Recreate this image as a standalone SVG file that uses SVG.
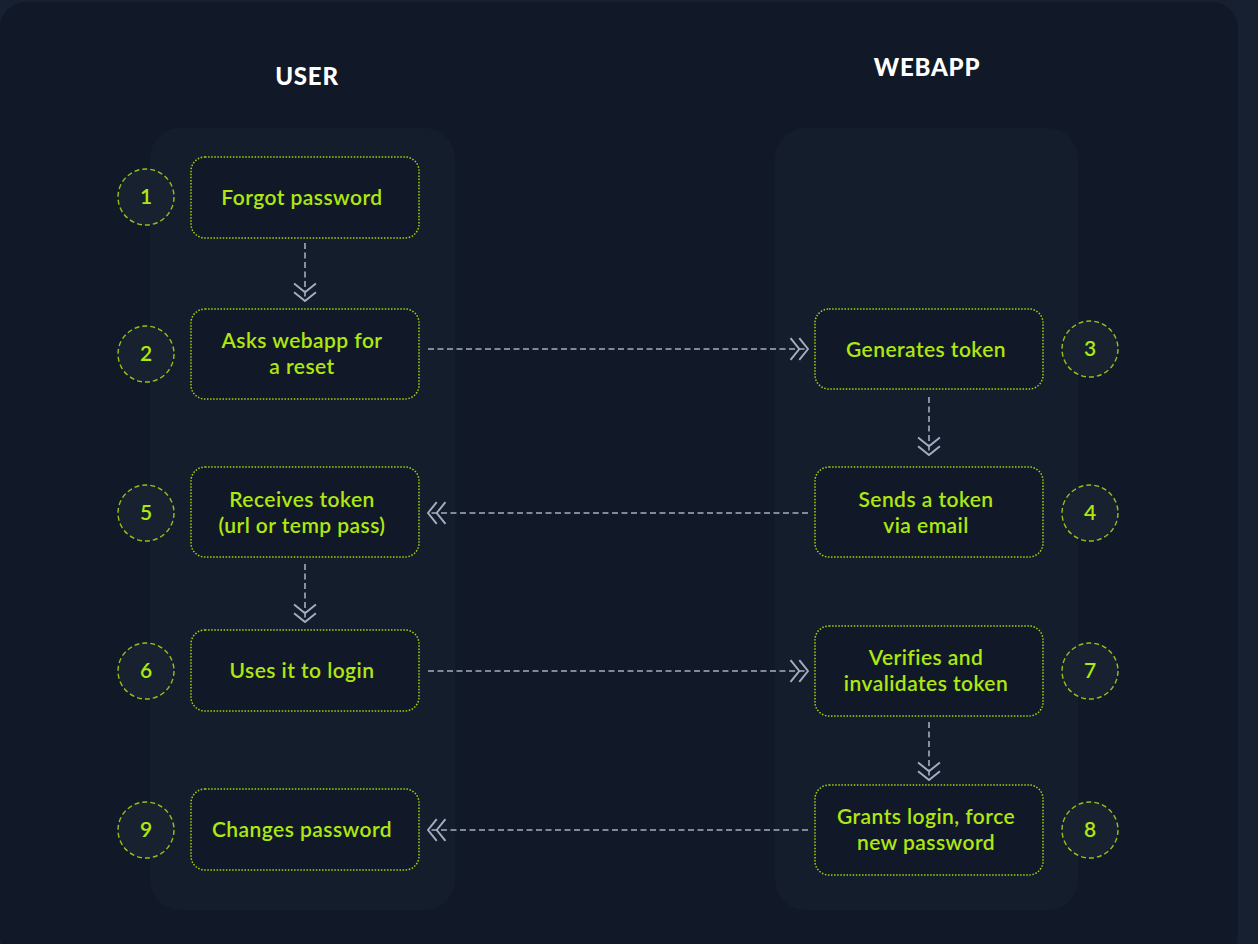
<svg xmlns="http://www.w3.org/2000/svg" width="1258" height="944" viewBox="0 0 1258 944">
<defs>
<style>
.lane{fill:#141d2b}
.box{fill:#111827;stroke:#9fd40e;stroke-width:1.5;stroke-dasharray:1.5 1.6}
.num{fill:#18212f;stroke:#8fc21a;stroke-width:1.4;stroke-dasharray:5 3}
.t{font-family:"Lato","Open Sans",sans-serif;font-size:21px;font-weight:600;letter-spacing:0.45px;fill:#aee811;text-anchor:middle}
.n{font-family:"Lato","Open Sans",sans-serif;font-size:21px;font-weight:600;fill:#aee811;text-anchor:middle}
.h{font-family:"Lato","Open Sans",sans-serif;font-size:24px;font-weight:900;letter-spacing:0.8px;fill:#ffffff;text-anchor:middle}
.c{stroke:#a3aec2;stroke-width:1.6;stroke-dasharray:6 3.5;fill:none}
</style>
<marker id="dbl" markerUnits="userSpaceOnUse" markerWidth="20" markerHeight="24" viewBox="-1 -11 18 22" refX="16" refY="0" orient="auto">
<path d="M0,-10 L8,0 L0,10 M8,-10 L16,0 L8,10" fill="none" stroke="#a3aec2" stroke-width="1.8" stroke-dasharray="none"/>
</marker>
</defs>
<rect x="0" y="0" width="1258" height="944" fill="#172030"/>
<rect x="0" y="2" width="1238" height="960" rx="26" fill="#111827"/>
<text class="h" x="307" y="85">USER</text>
<text class="h" x="927" y="76">WEBAPP</text>
<rect class="lane" x="150" y="128" width="305" height="782" rx="30"/>
<rect class="lane" x="775" y="128" width="303" height="782" rx="30"/>
<g id="connectors">
<line class="c" x1="305" y1="243" x2="305" y2="301" marker-end="url(#dbl)"/>
<line class="c" x1="428" y1="349" x2="808" y2="349" marker-end="url(#dbl)"/>
<line class="c" x1="929" y1="397" x2="929" y2="455" marker-end="url(#dbl)"/>
<line class="c" x1="808" y1="513" x2="428" y2="513" marker-end="url(#dbl)"/>
<line class="c" x1="305" y1="564" x2="305" y2="622" marker-end="url(#dbl)"/>
<line class="c" x1="428" y1="671" x2="808" y2="671" marker-end="url(#dbl)"/>
<line class="c" x1="929" y1="722" x2="929" y2="780" marker-end="url(#dbl)"/>
<line class="c" x1="808" y1="830" x2="428" y2="830" marker-end="url(#dbl)"/>
</g>
<g id="step1">
<circle class="num" cx="146" cy="197" r="28"/><text class="n" x="146" y="204">1</text>
<rect class="box" x="191" y="157" width="228" height="81" rx="14"/>
<text class="t" x="302" y="205">Forgot password</text>
</g>
<g id="step2">
<circle class="num" cx="146" cy="354" r="28"/><text class="n" x="146" y="361">2</text>
<rect class="box" x="191" y="309" width="228" height="90" rx="14"/>
<text class="t" x="302" y="348">Asks webapp for</text>
<text class="t" x="302" y="374">a reset</text>
</g>
<g id="step3">
<rect class="box" x="815" y="309" width="228" height="80" rx="14"/>
<text class="t" x="926" y="357">Generates token</text>
<circle class="num" cx="1090" cy="349" r="28"/><text class="n" x="1090" y="356">3</text>
</g>
<g id="step4">
<rect class="box" x="815" y="467" width="228" height="90" rx="14"/>
<text class="t" x="926" y="507">Sends a token</text>
<text class="t" x="926" y="533">via email</text>
<circle class="num" cx="1090" cy="513" r="28"/><text class="n" x="1090" y="520">4</text>
</g>
<g id="step5">
<circle class="num" cx="146" cy="513" r="28"/><text class="n" x="146" y="520">5</text>
<rect class="box" x="191" y="467" width="228" height="90" rx="14"/>
<text class="t" x="302" y="507">Receives token</text>
<text class="t" x="302" y="533">(url or temp pass)</text>
</g>
<g id="step6">
<circle class="num" cx="146" cy="671" r="28"/><text class="n" x="146" y="678">6</text>
<rect class="box" x="191" y="630" width="228" height="81" rx="14"/>
<text class="t" x="302" y="678">Uses it to login</text>
</g>
<g id="step7">
<rect class="box" x="815" y="626" width="228" height="90" rx="14"/>
<text class="t" x="926" y="665">Verifies and</text>
<text class="t" x="926" y="691">invalidates token</text>
<circle class="num" cx="1090" cy="671" r="28"/><text class="n" x="1090" y="678">7</text>
</g>
<g id="step8">
<rect class="box" x="815" y="785" width="228" height="90" rx="14"/>
<text class="t" x="926" y="824">Grants login, force</text>
<text class="t" x="926" y="850">new password</text>
<circle class="num" cx="1090" cy="830" r="28"/><text class="n" x="1090" y="837">8</text>
</g>
<g id="step9">
<circle class="num" cx="146" cy="830" r="28"/><text class="n" x="146" y="837">9</text>
<rect class="box" x="191" y="789" width="228" height="81" rx="14"/>
<text class="t" x="302" y="837">Changes password</text>
</g>
</svg>
